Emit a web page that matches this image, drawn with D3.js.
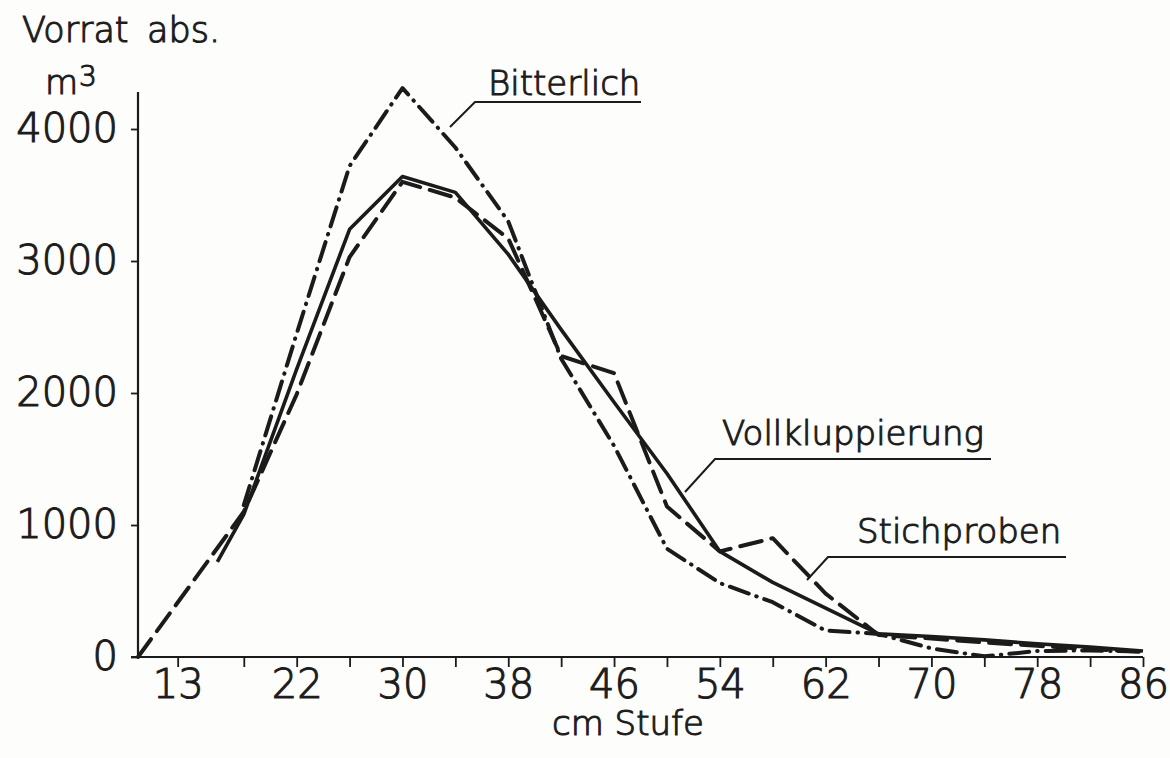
<!DOCTYPE html>
<html>
<head>
<meta charset="utf-8">
<script src="https://cdn.jsdelivr.net/npm/d3@7"></script>
<style>
  html, body { margin: 0; padding: 0; background: #fdfdfc; }
  svg { display: block; }
  text { font-family: "DejaVu Sans", sans-serif; font-weight: 200; fill: #1d1d1d; stroke: #1d1d1d; stroke-width: 1.1px; }
</style>
</head>
<body>
<svg id="chart" width="1170" height="758"></svg>
<script>
// cm Stufe (diameter class) and Vorrat abs. in m3
var cm = [10, 16, 18, 22, 26, 30, 34, 38, 42, 46, 50, 54, 58, 62, 66, 70, 74, 78, 82, 86];
var vollkluppierung = [null, 720, 1080, 2180, 3240, 3640, 3520, 3050, 2480, 1930, 1390, 800, 565, 370, 175, 155, 130, 100, 75, 45];
var stichproben = [0, null, 1100, 1990, 3030, 3600, 3480, 3170, 2280, 2150, 1140, 800, 900, 480, 167, 140, 110, 85, 60, 40];
var bitterlich = [null, null, 1150, 2450, 3720, 4310, 3860, 3300, 2260, 1600, 820, 560, 415, 200, 175, 65, 5, 45, 50, 40];

var xTicks = [13, 18, 22, 26, 30, 34, 38, 42, 46, 50, 54, 58, 62, 66, 70, 74, 78, 82, 86];
var xLabels = [13, 22, 30, 38, 46, 54, 62, 70, 78, 86];
var yTicks = [0, 1000, 2000, 3000, 4000];

var svg = d3.select("#chart");
var ink = "#1b1b1b";

var x = d3.scaleLinear().domain([10, 86]).range([138, 1143]);
var y = d3.scaleLinear().domain([0, 4000]).range([657, 129]);

// axes
var xAxis = d3.axisBottom(x)
  .tickValues(xTicks)
  .tickSize(10)
  .tickSizeOuter(0)
  .tickPadding(3)
  .tickFormat(function (d) { return xLabels.indexOf(d) >= 0 ? d : ""; });

var yAxis = d3.axisLeft(y)
  .tickValues(yTicks)
  .tickSize(7)
  .tickSizeOuter(0)
  .tickPadding(13)
  .tickFormat(d3.format("d"));

var gx = svg.append("g")
  .attr("transform", "translate(0," + y(0) + ")")
  .call(xAxis);
gx.select(".domain").remove();
gx.selectAll("line").attr("stroke", ink).attr("stroke-width", 1.8);
gx.selectAll("text").attr("font-size", 40).style("fill", ink);

var gy = svg.append("g")
  .attr("transform", "translate(" + x(10) + ",0)")
  .call(yAxis);
gy.select(".domain").remove();
gy.selectAll("line").attr("stroke", ink).attr("stroke-width", 1.8);
gy.selectAll("text").attr("font-size", 40).style("fill", ink);

// axis lines
svg.append("line")
  .attr("x1", x(10) - 7).attr("x2", x(86))
  .attr("y1", y(0)).attr("y2", y(0))
  .attr("stroke", ink).attr("stroke-width", 2.2);
svg.append("line")
  .attr("x1", x(10)).attr("x2", x(10))
  .attr("y1", y(0)).attr("y2", y(4280))
  .attr("stroke", ink).attr("stroke-width", 2.2);

// series
var series = [
  { name: "Stichproben", values: stichproben, dash: "22,10" },
  { name: "Bitterlich", values: bitterlich, dash: "20,8,0.5,8" },
  { name: "Vollkluppierung", values: vollkluppierung, dash: null }
];

var line = d3.line()
  .x(function (d) { return x(d[0]); })
  .y(function (d) { return y(d[1]); });

series.forEach(function (s) {
  var pts = [];
  s.values.forEach(function (v, i) {
    if (v !== null) { pts.push([cm[i], v]); }
  });
  svg.append("path")
    .datum(pts)
    .attr("class", "series")
    .attr("fill", "none")
    .attr("stroke", ink)
    .attr("stroke-width", s.dash ? 4 : 3.6)
    .attr("stroke-linejoin", "round")
    .attr("stroke-linecap", s.dash ? "round" : "butt")
    .attr("stroke-dasharray", s.dash)
    .attr("d", line);
});

// labels with leader lines
var notes = [
  { text: "Bitterlich", tx: 488, ty: 95, leader: [[450, 127], [475, 102], [641, 102]] },
  { text: "Vollkluppierung", tx: 722, ty: 445, leader: [[685, 492], [715, 459], [991, 459]] },
  { text: "Stichproben", tx: 857, ty: 543, leader: [[807, 580], [828, 557], [1066, 557]] }
];

notes.forEach(function (n) {
  svg.append("path")
    .attr("d", d3.line()(n.leader))
    .attr("fill", "none")
    .attr("stroke", ink)
    .attr("stroke-width", 2);
  svg.append("text")
    .attr("x", n.tx).attr("y", n.ty)
    .attr("font-size", 34)
    .text(n.text);
});

// axis titles
svg.append("text").attr("x", 22).attr("y", 42).attr("font-size", 35).text("Vorrat");
svg.append("text").attr("x", 147).attr("y", 42).attr("font-size", 35).text("abs.");
svg.append("text").attr("x", 45).attr("y", 94).attr("font-size", 34).text("m");
svg.append("text").attr("x", 79).attr("y", 86).attr("font-size", 28).text("3");
svg.append("text").attr("x", 552).attr("y", 735).attr("font-size", 34).text("cm Stufe");
</script>
</body>
</html>
